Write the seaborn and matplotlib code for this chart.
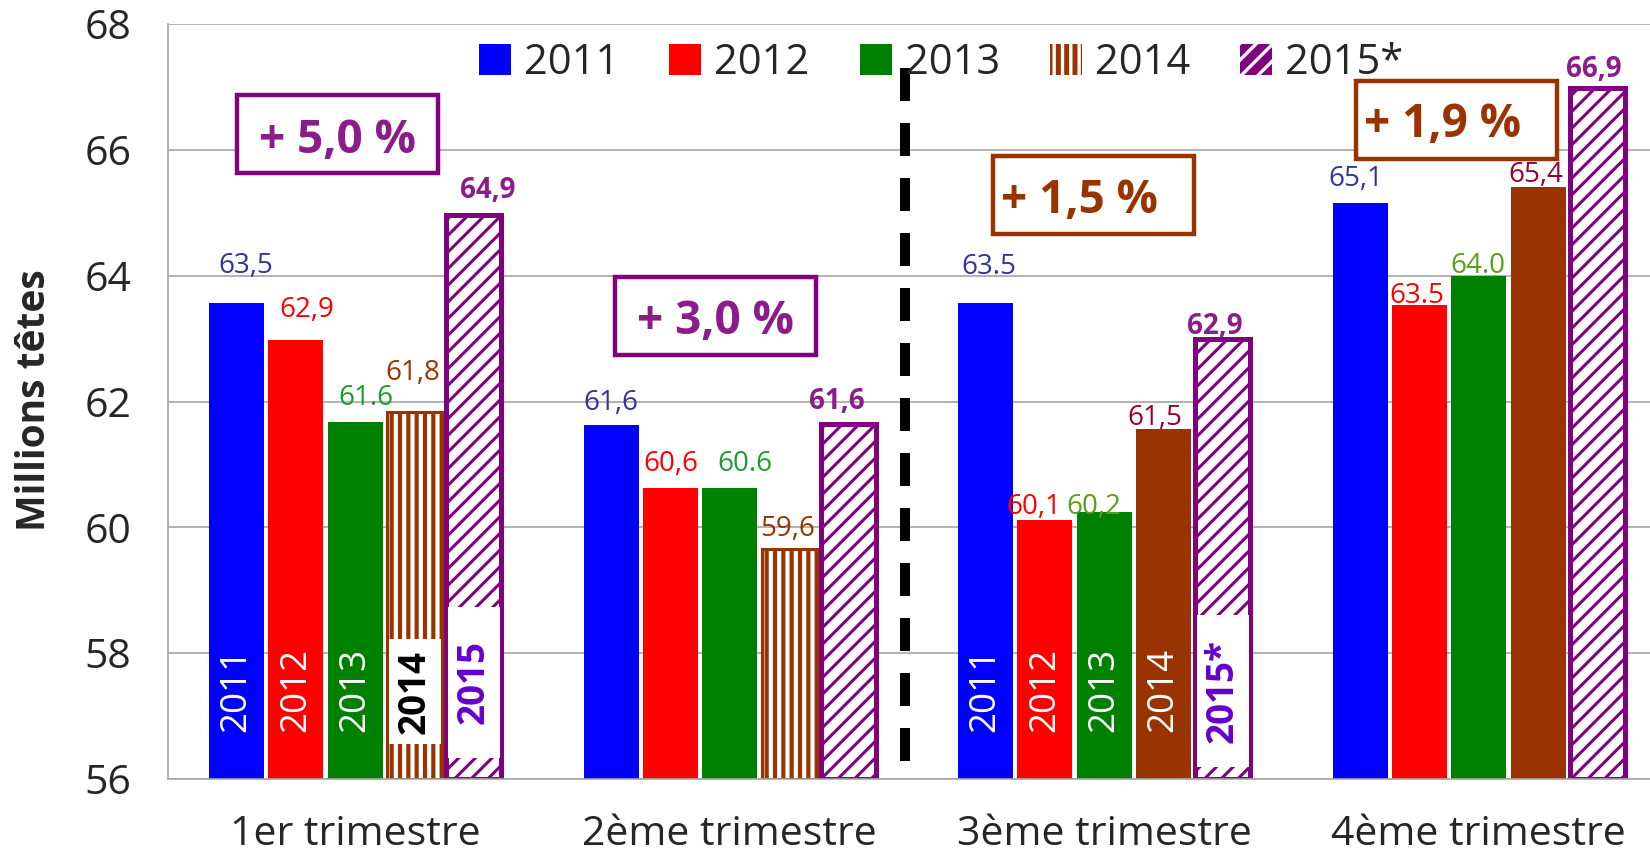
import numpy as np
import pandas as pd
import matplotlib
matplotlib.use("Agg")
import matplotlib.pyplot as plt
import seaborn as sns
from matplotlib.patches import Patch, Rectangle

# ---------------- data ----------------
quarters = ["1er trimestre", "2ème trimestre", "3ème trimestre", "4ème trimestre"]
years = ["2011", "2012", "2013", "2014", "2015*"]
v2011 = [63.57, 61.62, 63.57, 65.16]
v2012 = [62.97, 60.62, 60.11, 63.54]
v2013 = [61.68, 60.62, 60.25, 64.00]
v2014 = [61.83, 59.65, 61.57, 65.41]
v2015 = [64.97, 61.65, 62.99, 66.98]
lab2011 = ["63,5", "61,6", "63.5", "65,1"]
lab2012 = ["62,9", "60,6", "60,1", "63.5"]
lab2013 = ["61.6", "60.6", "60,2", "64.0"]
lab2014 = ["61,8", "59,6", "61,5", "65,4"]
lab2015 = ["64,9", "61,6", "62,9", "66,9"]
growth_labels = ["+ 5,0 %", "+ 3,0 %", "+ 1,5 %", "+ 1,9 %"]
inbar_q1 = ["2011", "2012", "2013", "2014", "2015"]
inbar_q3 = ["2011", "2012", "2013", "2014", "2015*"]
yticks = [56, 58, 60, 62, 64, 66, 68]
ylabel = "Millions têtes"

# ---------------- styles / layout ----------------
BLUE, RED, GREEN, BROWN, PURPLE = "#0000FF", "#FF0000", "#008000", "#993300", "#800080"
bar_colors = [BLUE, RED, GREEN, BROWN, PURPLE]
GRID = "#a6a6a6"
lab_colors = [
    ["#333399", "#FF0000", "#1E9B2E", "#993300", "#8B1C8B"],
    ["#333399", "#FF0000", "#1E9B2E", "#993300", "#8B1C8B"],
    ["#333399", "#FF0000", "#5A9E1A", "#990033", "#8B1C8B"],
    ["#333399", "#FF0000", "#5A9E1A", "#990033", "#8B1C8B"],
]
# label offsets (pixels) relative to top-centre of each bar
lab_dx = [[9, 10.5, 10.5, -1.5, 14], [0, 0, 15.5, -1.5, -12],
          [3.5, -11, -10.5, -9, -8], [-4.5, -2.5, -1, -2, -3.5]]
lab_dy = [[30, 23.5, 17, 32, 16.5], [15, 17, 17, 13, 14.5],
          [29, 6, -2, 4, 5], [17, 2, 3, 5, 11]]
# growth boxes: (box centre x, box centre y, text x, text baseline y, colour)
growth_pos = [(-0.0475, 66.244, -0.0475, 65.950, PURPLE),
              (0.9615, 63.359, 0.961, 63.073, PURPLE),
              (1.9706, 65.282, 1.9346, 64.996, BROWN),
              (2.9397, 66.474, 2.9036, 66.204, BROWN)]
growth_text_col = {PURPLE: "#8B1C8B", BROWN: "#993300"}
BOX_W, BOX_H = 0.5366, 1.24

DPI = 100
PT = 72.0 / DPI  # points per pixel

plt.rcParams["hatch.linewidth"] = 2.4
sns.set_style("white")
plt.rcParams["font.family"] = ["Open Sans", "DejaVu Sans"]


def hatch_lw(p, lw):
    if hasattr(p, "set_hatch_linewidth"):
        p.set_hatch_linewidth(lw)


fig = plt.figure(figsize=(16.5, 8.56), dpi=DPI)
ax = fig.add_axes([168 / 1650, 77 / 856, 1498 / 1650, 755 / 856])

values = [v2011, v2012, v2013, v2014, v2015]
labels = [lab2011, lab2012, lab2013, lab2014, lab2015]
df = pd.DataFrame([(q, y, v) for y, vals in zip(years, values) for q, v in zip(quarters, vals)],
                  columns=["quarter", "year", "value"])

sns.barplot(data=df, x="quarter", y="value", hue="year", order=quarters, hue_order=years,
            palette=bar_colors, saturation=1, width=0.7925, gap=0.073, linewidth=0,
            errorbar=None, legend=False, ax=ax)

base = yticks[0]
for j, cont in enumerate(ax.containers):
    for i, p in enumerate(cont):
        h = p.get_height()
        p.set_y(base)
        p.set_height(h - base)
        p.set_zorder(2)
        if j == 3 and i in (0, 1):
            p.set_facecolor(BROWN)
            p.set_edgecolor("white")
            p.set_hatch("||")
            hatch_lw(p, 3.0)
            p.set_linewidth(0)
            ax.add_patch(Rectangle((p.get_x(), base), p.get_width(), h - base, fill=False,
                                   ec=BROWN, lw=2.2, zorder=2.1))
        elif j == 4:
            p.set_facecolor("white")
            p.set_edgecolor(PURPLE)
            p.set_hatch("//")
            hatch_lw(p, 2.2)
            p.set_linewidth(3.6)
        # value label
        cx = p.get_x() + p.get_width() / 2
        ax.annotate(labels[j][i], xy=(cx, h), xytext=(lab_dx[i][j] * PT, lab_dy[i][j] * PT),
                    textcoords="offset points", ha="center", va="baseline",
                    fontsize=20, color=lab_colors[i][j],
                    fontweight="bold" if j == 4 else "normal", zorder=6)

# in-bar year labels (1st and 3rd quarter)
inbar_boxes = {(0, 3): (56.557, 58.226), (0, 4): (56.335, 58.734), (2, 4): (56.191, 58.607)}
for i, texts in ((0, inbar_q1), (2, inbar_q3)):
    for j, t in enumerate(texts):
        p = ax.containers[j][i]
        cx = p.get_x() + p.get_width() / 2
        yc = 57.42
        if (i, j) in inbar_boxes:
            y0, y1 = inbar_boxes[(i, j)]
            ax.add_patch(Rectangle((cx - 0.0695, y0), 0.139, y1 - y0, fc="white", ec="none", zorder=3))
            yc = (y0 + y1) / 2 if j == 4 else 57.38
            col = "black" if j == 3 else "#6600CC"
            ax.text(cx, yc, t, rotation=90, ha="center", va="center", fontsize=26.5,
                    fontweight="bold", color=col, zorder=4)
        else:
            ax.text(cx, yc, t, rotation=90, ha="center", va="center", fontsize=26.5,
                    color="white", zorder=4)

# growth boxes
for txt, (bx, by, tx, ty, col) in zip(growth_labels, growth_pos):
    ax.add_patch(Rectangle((bx - BOX_W / 2, by - BOX_H / 2), BOX_W, BOX_H, fc="white",
                           ec=col, lw=3.2, zorder=5))
    ax.text(tx, ty, txt, ha="center", va="baseline", fontsize=33, fontweight="bold",
            color=growth_text_col[col], zorder=6)

# dashed separator (drawn top to bottom so the dash pattern starts at the top)
ax.plot([1.467, 1.467], [67.30, 56.13], color="black", lw=7.2,
        linestyle=(0, (3.3, 2.2)), zorder=4)

# axes styling
ax.set_xlim(-0.5, 3.5)
ax.set_ylim(yticks[0], yticks[-1])
ax.set_yticks(yticks)
ax.set_yticklabels([str(t) for t in yticks])
ax.yaxis.grid(True, color=GRID, lw=1.2)
ax.xaxis.grid(False)
ax.set_axisbelow(True)
for s in ("top", "right"):
    ax.spines[s].set_visible(False)
for s in ("left", "bottom"):
    ax.spines[s].set_color(GRID)
    ax.spines[s].set_linewidth(1.2)
ax.tick_params(axis="y", length=11.5, width=1.2, color=GRID, labelsize=29.5, pad=15)
ax.set_xticks(range(len(quarters)))
ax.set_xticklabels(quarters)
ax.set_xticks([-0.5, 0.5, 1.5, 2.5, 3.5], minor=True)
ax.tick_params(axis="x", which="major", length=0, labelsize=29.5, pad=25.5)
ax.tick_params(axis="x", which="minor", length=10.8, width=1.2, color=GRID)
ax.set_xlabel("")
ax.set_ylabel(ylabel, fontsize=28, fontweight="bold")
ax.yaxis.set_label_coords((35 - 168) / 1498, (779 - 400) / 755)
ax.yaxis.label.set_verticalalignment("center")

# legend
leg_brown = Patch(fc=BROWN, ec="white", hatch="||", lw=0)
leg_purple = Patch(fc=PURPLE, ec="white", hatch="//", lw=0)
hatch_lw(leg_brown, 3.0)
hatch_lw(leg_purple, 2.2)
handles = [Patch(fc=BLUE, lw=0), Patch(fc=RED, lw=0), Patch(fc=GREEN, lw=0),
           leg_brown, leg_purple]
ax.legend(handles, years, loc="center left", bbox_to_anchor=(479 / 1650, 1 - 63 / 856),
          bbox_transform=fig.transFigure, ncol=5, frameon=False, fontsize=30,
          handlelength=0.77, handleheight=0.77, handletextpad=0.31, columnspacing=1.2,
          borderpad=0, borderaxespad=0)

fig.savefig("out.png", dpi=DPI)
